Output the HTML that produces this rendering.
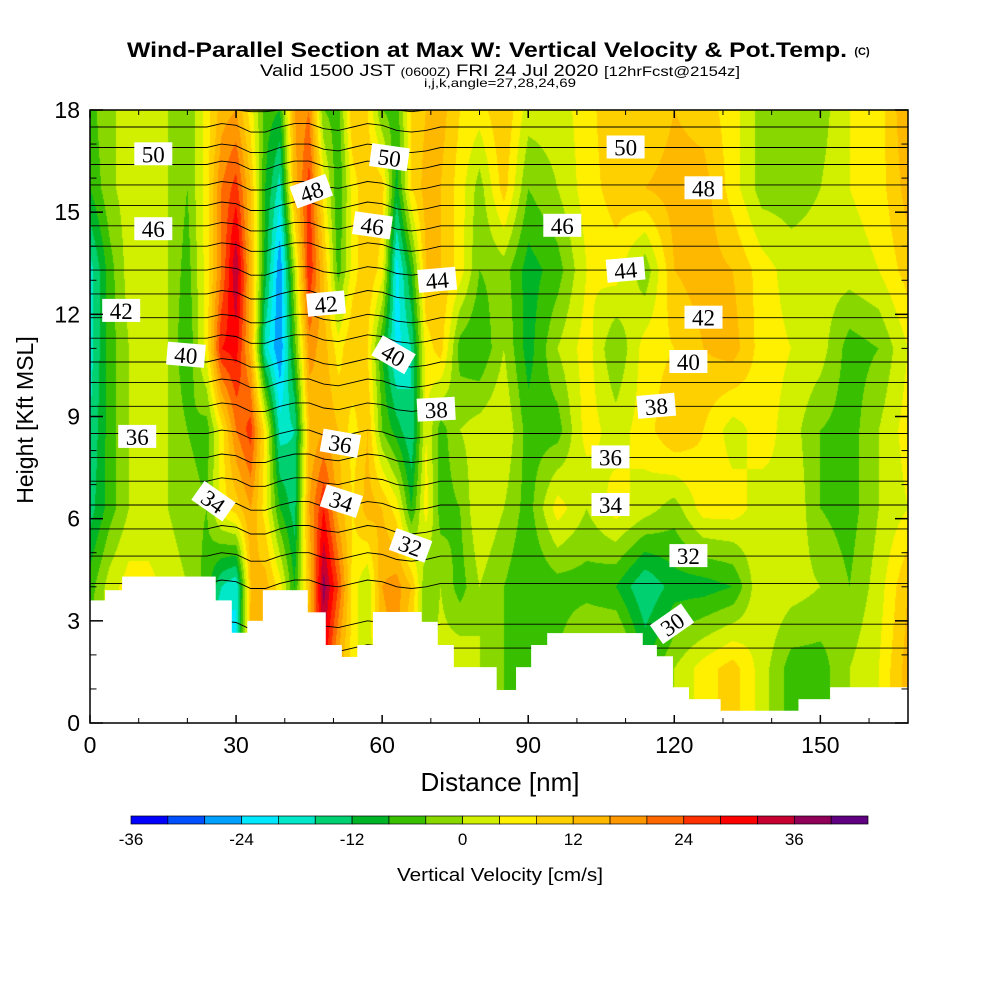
<!DOCTYPE html>
<html><head><meta charset="utf-8">
<style>
html,body{margin:0;padding:0;background:#fff;}
#wrap{position:relative;width:1000px;height:1000px;overflow:hidden;font-family:"Liberation Sans",sans-serif;}
#field{position:absolute;left:90px;top:110px;}
#ov{position:absolute;left:0;top:0;}
</style></head>
<body>
<div id="wrap">
<canvas id="field" width="818" height="613"></canvas>
<svg id="ov" width="1000" height="1000" xmlns="http://www.w3.org/2000/svg">
<g id="theta"></g>
<g id="terrain"></g>
<g id="labels"></g>
<rect x="90" y="110" width="818" height="613" fill="none" stroke="#000" stroke-width="1.5"/>
<g id="ticks"></g>
<text x="127" y="57" font-size="21" font-weight="bold" textLength="720" lengthAdjust="spacingAndGlyphs">Wind-Parallel Section at Max W: Vertical Velocity &amp; Pot.Temp.</text>
<text x="862" y="55" text-anchor="middle" font-size="11" font-weight="bold">(C)</text>
<text x="260" y="76" font-size="17" textLength="480" lengthAdjust="spacingAndGlyphs">Valid 1500 JST <tspan font-size="12">(0600Z)</tspan> FRI 24 Jul 2020 <tspan font-size="14">[12hrFcst@2154z]</tspan></text>
<text x="424" y="87" font-size="12" textLength="152" lengthAdjust="spacingAndGlyphs">i,j,k,angle=27,28,24,69</text>
<text x="500" y="791" text-anchor="middle" font-size="26">Distance [nm]</text>
<text x="0" y="0" transform="translate(33,420) rotate(-90)" text-anchor="middle" font-size="23">Height [Kft MSL]</text>
<g id="cbar"></g>
<text x="397" y="881" font-size="18" textLength="206" lengthAdjust="spacingAndGlyphs">Vertical Velocity [cm/s]</text>
</svg>
</div>
<script>
// ---- data ----
const xs = [0,4,8,12,16,20,24,27,30,33,36,39,42,45,48,51,54,57,60,63,66,69,72,76,80,85,90,96,102,108,114,120,126,132,138,144,150,156,162,168];
const rowHeights = [18,15.7,13.3,11,8.6,6.3,4.0,1.6,0];
const w18  = [-6,0,0,2,0,-4,6,14,16,6,-6,-8,16,20,-4,-6,12,8,-4,-6,8,12,14,8,6,12,2,2,6,12,8,12,10,6,-2,-2,-2,4,6,16];
const w157 = [-8,-1,2,2,0,-4,6,20,26,12,-8,-18,14,26,6,-8,6,12,10,-10,8,14,12,6,-2,10,-4,0,6,10,12,14,14,6,-2,-2,0,4,6,14];
const w133 = [-18,-6,2,2,0,-6,6,20,36,14,-10,-28,0,28,12,-6,6,12,6,-22,-8,12,12,6,-4,-2,-10,-6,4,6,-3,12,14,12,6,2,2,2,4,10];
const w110 = [-18,-6,0,2,0,-8,6,28,30,14,-18,-28,-6,18,14,6,12,8,-8,-22,-16,6,10,-6,-8,0,-10,0,6,-4,6,8,12,14,6,4,2,-6,-4,4];
const w86  = [-16,-6,0,2,0,-4,-6,6,20,26,6,-18,-16,12,16,12,6,12,-4,-10,-16,4,-6,0,2,4,-6,-6,6,2,6,12,8,2,6,2,-4,-6,0,6];
const w63  = [-14,-6,0,0,0,-2,-4,6,10,16,6,-8,-14,16,28,14,8,14,12,6,-8,6,-6,-4,4,0,-6,6,0,6,2,-2,6,6,2,4,-4,-6,0,4];
const w40  = [-6,2,6,6,2,0,-6,-16,-20,12,14,6,-8,12,38,24,6,0,16,18,12,-4,0,-6,0,-4,-8,-6,-6,-8,-16,-10,-10,-8,4,2,0,-4,2,12];
const w16  = [-4,4,4,4,4,4,-20,-30,-20,14,14,4,-6,16,30,14,6,0,14,16,6,-4,2,4,0,-4,-6,-4,4,6,-8,0,6,10,2,-6,-6,0,4,14];
const w00  = [-4,4,4,4,4,4,-20,-30,-20,14,14,4,-6,16,30,14,6,0,14,16,6,-4,2,4,0,-4,-6,-4,4,6,-8,0,6,10,2,-6,-6,0,4,14];
const fieldRows = [w18,w157,w133,w110,w86,w63,w40,w16,w00];
const terrStart = [0,3.1,6.6,25.7,29.0,32.3,35.5,44.6,48.3,51.6,54.9,58.1,68.0,71.3,74.6,83.4,87.5,90.6,93.9,113.4,116.3,119.6,122.9,129.4,145.5,152.0];
const terrEnd   = [3.1,6.6,25.7,29.0,32.3,35.5,44.6,48.3,51.6,54.9,58.1,68.0,71.3,74.6,83.4,87.5,90.6,93.9,113.4,116.3,119.6,122.9,129.4,145.5,152.0,168];
const terrH     = [3.6,3.9,4.3,3.6,2.65,3.0,3.9,3.25,2.29,1.94,2.29,3.26,2.97,2.29,1.64,0.97,1.64,2.29,2.64,2.29,1.96,1.05,0.7,0.36,0.7,1.05];
const thetaLevels = [29,30,31,32,33,34,35,36,37,38,39,40,41,42,43,44,45,46,47,48,49,50,51,52];
const thetaHeights = [2.2,2.9,4.1,4.9,5.7,6.4,7.1,7.8,8.5,9.3,10.0,10.6,11.3,11.9,12.6,13.3,14.0,14.6,15.2,15.8,16.4,16.9,17.5,18.1];
const thetaWiggle = [0,0,0,0,0,0,0,0.1,0.05,-0.15,-0.15,0,0.1,0.1,-0.05,-0.1,0,0.1,0.05,-0.1,-0.15,-0.1,0,0,0,0,0,0,0,0,0,0,0,0,0,0,0,0,0,0];
const labelText = ["50","50","48","46","46","44","42","42","40","40","38","36","36","34","34","32","50","48","46","44","42","40","38","36","34","32","30"];
const labelNm   = [13,61.5,45.5,13,58,71.3,48.5,6.4,19.7,62.3,71.1,9.7,51.4,25.3,51.6,65.8,110,126,97,110,126,122.9,116.3,106.9,106.9,122.9,119.6];
const labelKft  = [16.7,16.6,15.6,14.5,14.6,13.0,12.3,12.1,10.8,10.8,9.2,8.4,8.2,6.5,6.5,5.2,16.9,15.7,14.6,13.3,11.9,10.6,9.3,7.8,6.4,4.9,2.9];
const labelRot  = [0,8,-20,0,8,-5,-5,0,5,30,-3,0,10,35,18,20,0,0,0,-5,0,0,-5,0,0,0,-35];
const cbLevels = [-36,-32,-28,-24,-20,-16,-12,-8,-4,0,4,8,12,16,20,24,28,32,36,40,44];
const cbColors = ["#0000ff","#0050ff","#00a0ff","#00e8ff","#00e8c8","#00d070","#00b428","#38c000","#88d800","#d0f000","#fff000","#ffd000","#ffb800","#ff9800","#ff6800","#ff3000","#ff0000","#c80030","#900058","#600080"];
const cbTicks = [-36,-24,-12,0,12,24,36];
const xTicks = [0,30,60,90,120,150];
const yTicks = [0,3,6,9,12,15,18];

const X0=90,X1=908,Y0=723,Y1=110,XMAX=168,YMAX=18;
const sx = nm => X0 + nm/XMAX*(X1-X0);
const sy = k => Y0 - k/YMAX*(Y0-Y1);
const NS="http://www.w3.org/2000/svg";
function mk(tag, attrs, parent){const e=document.createElementNS(NS,tag);for(const k in attrs)e.setAttribute(k,attrs[k]);parent.appendChild(e);return e;}

const rgb = cbColors.map(c=>[parseInt(c.substr(1,2),16),parseInt(c.substr(3,2),16),parseInt(c.substr(5,2),16)]);
(function(){
  const cv=document.getElementById('field');const ctx=cv.getContext('2d');
  const W=cv.width,H=cv.height;const img=ctx.createImageData(W,H);
  const colIdx=[],colT=[];
  for(let px=0;px<W;px++){const nm=(px+0.5)/W*XMAX;let i=0;while(i<xs.length-2&&nm>xs[i+1])i++;colIdx.push(i);colT.push(Math.min(1,Math.max(0,(nm-xs[i])/(xs[i+1]-xs[i]))));}
  for(let py=0;py<H;py++){
    const k=YMAX-(py+0.5)/H*YMAX;let r=0;while(r<rowHeights.length-2&&k<rowHeights[r+1])r++;
    const tr=Math.min(1,Math.max(0,(rowHeights[r]-k)/(rowHeights[r]-rowHeights[r+1])));
    const A=fieldRows[r],B=fieldRows[r+1];
    for(let px=0;px<W;px++){
      const i=colIdx[px],t=colT[px];
      const top=A[i]*(1-t)+A[i+1]*t,bot=B[i]*(1-t)+B[i+1]*t;
      const v=top*(1-tr)+bot*tr;
      let ci=Math.floor((v-cbLevels[0])/4);if(ci<0)ci=0;if(ci>19)ci=19;
      const o=(py*W+px)*4;img.data[o]=rgb[ci][0];img.data[o+1]=rgb[ci][1];img.data[o+2]=rgb[ci][2];img.data[o+3]=255;
    }
  }
  ctx.putImageData(img,0,0);
})();

const thetaG=document.getElementById('theta');
thetaLevels.forEach((th,j)=>{
  let d='';xs.forEach((x,i)=>{const h=Math.min(18,thetaHeights[j]+thetaWiggle[i]);d+=(i?'L':'M')+sx(x).toFixed(1)+','+sy(h).toFixed(1);});
  const p=mk('path',{d:d,fill:'none',stroke:'#000','stroke-width':'0.9'},thetaG);
  
  
});
const terrG=document.getElementById('terrain');
terrH.forEach((h,i)=>{
  const r=mk('rect',{x:sx(terrStart[i]),y:sy(h),width:sx(terrEnd[i])-sx(terrStart[i])+0.6,height:Y0-sy(h),fill:'#fff'},terrG);
  
  
});
const labG=document.getElementById('labels');
labelText.forEach((t,i)=>{
  const g=mk('g',{transform:'translate('+sx(labelNm[i]).toFixed(1)+','+sy(labelKft[i]).toFixed(1)+') rotate('+labelRot[i]+')'},labG);
  
  
  mk('rect',{x:-19,y:-12,width:38,height:23,fill:'#fff'},g);
  mk('text',{x:0,y:8,'text-anchor':'middle','font-size':'23','font-family':'"Liberation Serif",serif'},g).textContent=t;
});
const tk=document.getElementById('ticks');
for(let v=0;v<=XMAX;v+=10){const big=v%30===0;const L=big?8:5;
  mk('line',{x1:sx(v),x2:sx(v),y1:Y0,y2:Y0-L,stroke:'#000','stroke-width':big?1.5:1},tk);
  mk('line',{x1:sx(v),x2:sx(v),y1:Y1,y2:Y1+L,stroke:'#000','stroke-width':big?1.5:1},tk);}
for(let v=0;v<=YMAX;v+=1){const big=v%3===0;const L=big?26:13;
  mk('line',{x1:X0,x2:X0+L/2,y1:sy(v),y2:sy(v),stroke:'#000','stroke-width':big?1.5:1},tk);
  mk('line',{x1:X1,x2:X1-L/2,y1:sy(v),y2:sy(v),stroke:'#000','stroke-width':big?1.5:1},tk);}
xTicks.forEach(v=>{const t=mk('text',{x:sx(v),y:753,'text-anchor':'middle','font-size':'23'},tk);t.textContent=v;
  
  });
yTicks.forEach(v=>{const t=mk('text',{x:80,y:sy(v)+8,'text-anchor':'end','font-size':'23'},tk);t.textContent=v;
  
  });
const cb=document.getElementById('cbar');
const CB0=131,CB1=868;const cbx=v=>CB0+(v-cbLevels[0])/(cbLevels[cbLevels.length-1]-cbLevels[0])*(CB1-CB0);
cbColors.forEach((c,i)=>{const r=mk('rect',{x:cbx(cbLevels[i]),y:816,width:cbx(cbLevels[i+1])-cbx(cbLevels[i]),height:8,fill:c,stroke:'#000','stroke-width':'0.7'},cb);
  
  });
cbTicks.forEach(v=>{const t=mk('text',{x:cbx(v),y:845,'text-anchor':'middle','font-size':'17'},cb);t.textContent=v;
  
  });
</script>
</body></html>
